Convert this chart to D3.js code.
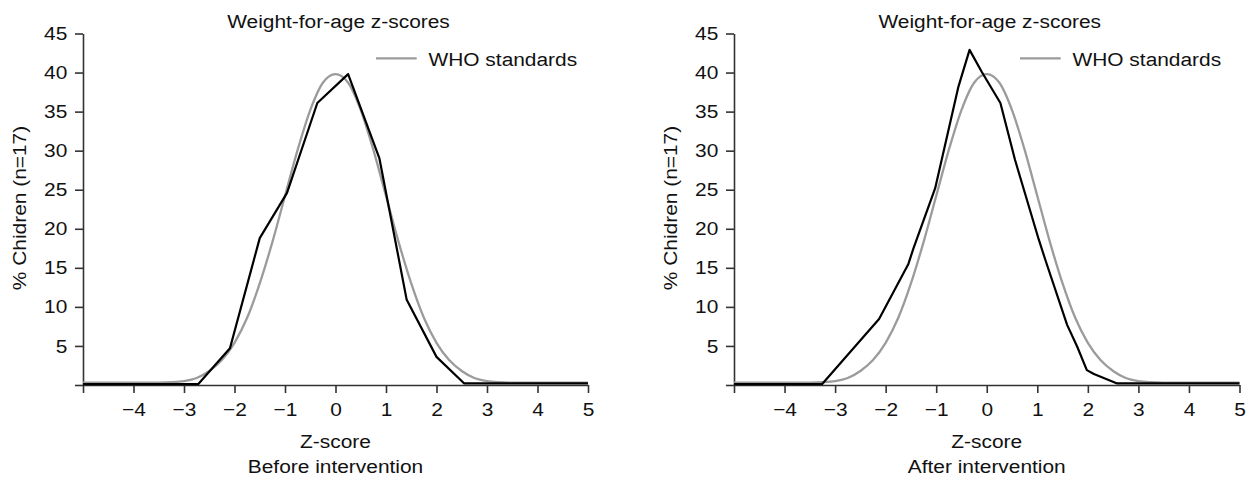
<!DOCTYPE html>
<html><head><meta charset="utf-8">
<script src="https://cdn.jsdelivr.net/npm/d3@7"></script>
<style>
body{margin:0;background:#fff}
text{font-family:"Liberation Sans",Arial,Helvetica,sans-serif;fill:#111}
</style>
</head><body>
<svg id="c" width="1255" height="481"></svg>
<script>
// ---- data ----
const xTicks = [-5,-4,-3,-2,-1,0,1,2,3,4,5];
const yTicks = [0,5,10,15,20,25,30,35,40,45];
const titleText = "Weight-for-age z-scores";
const legendText = "WHO standards";
const yLabel = "% Chidren (n=17)";
const xLabel = "Z-score";
const panelLabels = ["Before intervention", "After intervention"];

// WHO standards reference curve
const whoZ   = [-5,-4,-3.5,-3.25,-3,-2.75,-2.5,-2.25,-2,-1.75,-1.5,-1.25,-1,-0.75,-0.5,-0.25,0,0.25,0.5,0.75,1,1.25,1.5,1.75,2,2.25,2.5,2.75,3,3.25,3.5,4,5];
const whoPct = [0.3,0.3,0.3,0.35,0.5,0.9,1.8,3.2,5.4,8.6,13.0,18.3,24.2,30.1,35.2,38.7,39.8,38.7,35.2,30.1,24.2,18.3,13.0,8.6,5.4,3.2,1.8,0.9,0.5,0.35,0.3,0.3,0.3];

// Before intervention
const beforeZ   = [-5,-2.72,-2.09,-1.5,-0.96,-0.36,0.25,0.87,1.41,2.0,2.55,5];
const beforePct = [0.1,0.1,4.7,18.8,24.6,36.1,39.8,29.0,10.9,3.6,0.2,0.2];

// After intervention
const afterZ   = [-5,-3.26,-2.13,-1.55,-1.45,-1.02,-0.56,-0.34,-0.1,0.27,0.56,1.03,1.16,1.59,1.79,1.98,2.12,2.58,5];
const afterPct = [0.1,0.1,8.45,15.5,17.5,25.2,38.2,42.9,40.1,36.1,28.8,18.6,16.0,7.7,4.9,1.9,1.4,0.2,0.2];

// ---- layout ----
const FS = 19, SX = 1.1;
const panels = [
  {x0:83,  x1:588,   legendX:376,  label:panelLabels[0], z:beforeZ, pct:beforePct},
  {x0:734, x1:1239.5, legendX:1020, label:panelLabels[1], z:afterZ,  pct:afterPct}
];
const yTop = 33.5, yBot = 385;
const svg = d3.select("#c");

function stext(parent, x, y, str, anchor, rot){
  const g = parent.append("g").attr("transform", `translate(${x},${y})` + (rot?` rotate(${rot})`:"") + ` scale(${SX},1)`);
  g.append("text").attr("text-anchor", anchor).attr("font-size", FS).text(str);
  return g;
}

panels.forEach(p => {
  const x = d3.scaleLinear().domain([-5,5]).range([p.x0, p.x1]);
  const y = d3.scaleLinear().domain([0,45]).range([yBot, yTop]);
  const g = svg.append("g");

  // axes
  const ax = g.append("g").attr("transform", `translate(0,${yBot})`)
    .call(d3.axisBottom(x).tickValues(xTicks).tickSize(8).tickSizeOuter(0)
      .tickFormat(d => d === -5 ? "" : d3.format("")(d)));
  const ay = g.append("g").attr("transform", `translate(${p.x0},0)`)
    .call(d3.axisLeft(y).tickValues(yTicks).tickSize(8).tickSizeOuter(0)
      .tickFormat(d => d === 0 ? "" : d));
  [ax, ay].forEach(a => {
    a.selectAll("path.domain").attr("stroke", "#333").attr("stroke-width", 1.6);
    a.selectAll(".tick line").attr("stroke", "#333").attr("stroke-width", 1.6);
    a.selectAll(".tick text").attr("font-size", FS).attr("fill", "#111")
      .style("font-family", '"Liberation Sans",Arial,sans-serif');
  });
  ax.selectAll(".tick text").attr("y", 31).attr("dy", 0).attr("transform", `scale(${SX},1)`);
  ay.selectAll(".tick text").attr("x", -14.3).attr("transform", `scale(${SX},1)`);

  // lines
  const line = d3.line().x(d => x(d[0])).y(d => y(d[1]));
  const whoData = whoZ.map((z,i) => [z, whoPct[i]]);
  const obsData = p.z.map((z,i) => [z, p.pct[i]]);
  g.append("path").datum(whoData).attr("fill","none").attr("stroke","#9b9b9b")
    .attr("stroke-width",2.3).attr("d", line.curve(d3.curveMonotoneX));
  g.append("path").datum(obsData).attr("fill","none").attr("stroke","#000")
    .attr("stroke-width",2.2).attr("stroke-linejoin","round")
    .attr("d", d3.line().x(d => x(d[0])).y(d => y(d[1])));

  // title
  const cx = (p.x0 + p.x1)/2;
  stext(g, cx + 3, 27.7, titleText, "middle");
  // legend
  g.append("line").attr("x1", p.legendX).attr("x2", p.legendX + 40.7)
    .attr("y1", 58.3).attr("y2", 58.3).attr("stroke", "#9b9b9b").attr("stroke-width", 2.3);
  stext(g, p.legendX + 52.5, 65.7, legendText, "start");
  // axis labels
  stext(g, cx, 448.3, xLabel, "middle");
  stext(g, cx, 473.3, p.label, "middle");
  stext(g, p.x0 - 57, 208, yLabel, "middle", -90);
});
</script>
</body></html>
